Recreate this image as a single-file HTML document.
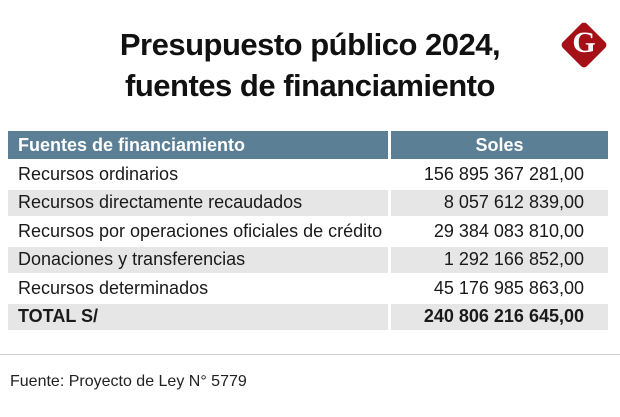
<!DOCTYPE html>
<html><head><meta charset="utf-8"><style>
body{margin:0;width:620px;height:417px;background:#fff;font-family:"Liberation Sans",sans-serif;position:relative;overflow:hidden;color:#1a1a1a}
.title{position:absolute;left:0;width:620px;text-align:center;top:24px;font-weight:bold;font-size:31px;line-height:41px;letter-spacing:-0.5px;color:#111}
.logo{position:absolute;left:567px;top:28px;width:34px;height:34px;background:#a50f16;transform:rotate(45deg);border-radius:4px}
.logoG{position:absolute;left:567px;top:26px;width:34px;text-align:center;font:bold 30px "Liberation Serif",serif;color:#fff}
table{position:absolute;left:8px;top:129px;border-collapse:separate;border-spacing:0 2px;width:600px;font-size:18px;table-layout:fixed}
td,th{height:26.5px;padding:0 10px;white-space:nowrap;overflow:visible}
th{background:#5b7f95;color:#fff;font-weight:bold;text-align:left;height:28px}
th.s{text-align:center}
tr:nth-child(odd) td{background:#e6e6e6}
td.v{text-align:right;border-left:3px solid #fff;padding-right:24px}
th.s{border-left:3px solid #fff}
.tot td{font-weight:bold}
.rule{position:absolute;left:0;top:354px;width:620px;height:1px;background:#ccc}
.src{position:absolute;left:10px;top:373px;font-size:16px;color:#222}
</style></head><body>
<div class="title">Presupuesto público 2024,<br>fuentes de financiamiento</div>
<div class="logo"></div>
<div class="logoG">G</div>
<table>
<colgroup><col style="width:380px"><col></colgroup>
<tr><th>Fuentes de financiamiento</th><th class="s">Soles</th></tr>
<tr><td>Recursos ordinarios</td><td class="v">156 895 367 281,00</td></tr>
<tr><td>Recursos directamente recaudados</td><td class="v">8 057 612 839,00</td></tr>
<tr><td>Recursos por operaciones oficiales de crédito</td><td class="v">29 384 083 810,00</td></tr>
<tr><td>Donaciones y transferencias</td><td class="v">1 292 166 852,00</td></tr>
<tr><td>Recursos determinados</td><td class="v">45 176 985 863,00</td></tr>
<tr class="tot"><td>TOTAL S/</td><td class="v">240 806 216 645,00</td></tr>
</table>
<div class="rule"></div>
<div class="src">Fuente: Proyecto de Ley N° 5779</div>
</body></html>
